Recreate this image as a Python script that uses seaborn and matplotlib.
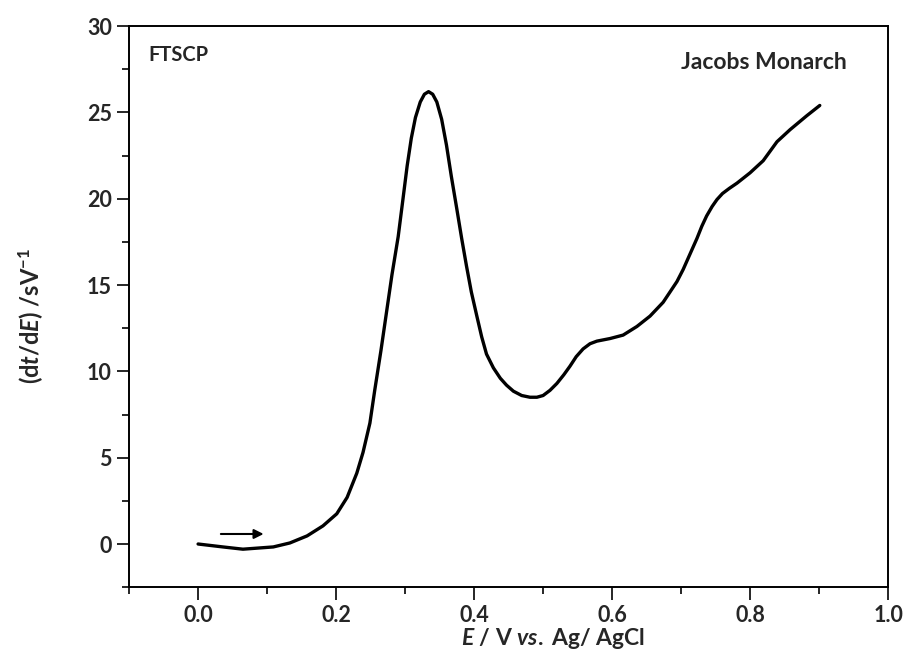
import matplotlib
matplotlib.use("Agg")
import matplotlib.pyplot as plt
from matplotlib.ticker import MultipleLocator, FormatStrFormatter
import pandas as pd
import seaborn as sns

# potential (V vs Ag/AgCl) and dt/dE (s/V)
potential = [0.000, 0.036, 0.065, 0.109, 0.133, 0.158, 0.181, 0.201, 0.216, 0.230,
             0.239, 0.249, 0.256, 0.265, 0.273, 0.281, 0.290, 0.297, 0.303, 0.309,
             0.315, 0.322, 0.328, 0.334, 0.340, 0.346, 0.353, 0.360, 0.367, 0.375,
             0.382, 0.389, 0.396, 0.404, 0.411, 0.418, 0.428, 0.438, 0.447, 0.457,
             0.469, 0.481, 0.491, 0.500, 0.510, 0.520, 0.530, 0.539, 0.548, 0.558,
             0.568, 0.578, 0.597, 0.616, 0.636, 0.655, 0.674, 0.694, 0.703, 0.713,
             0.723, 0.730, 0.737, 0.745, 0.752, 0.760, 0.770, 0.781, 0.800, 0.819,
             0.839, 0.858, 0.882, 0.901]
dtdE = [0.00, -0.17, -0.30, -0.17, 0.06, 0.47, 1.05, 1.75, 2.70, 4.10,
        5.30, 7.00, 8.90, 11.2, 13.4, 15.6, 17.8, 20.0, 21.9, 23.5,
        24.7, 25.6, 26.05, 26.2, 26.05, 25.6, 24.6, 23.1, 21.3, 19.4,
        17.7, 16.1, 14.6, 13.2, 12.0, 11.0, 10.2, 9.6, 9.2, 8.85,
        8.6, 8.5, 8.5, 8.6, 8.9, 9.3, 9.8, 10.3, 10.85, 11.3,
        11.6, 11.75, 11.9, 12.1, 12.6, 13.2, 14.0, 15.2, 15.9, 16.8,
        17.7, 18.4, 19.0, 19.55, 19.95, 20.3, 20.6, 20.9, 21.5, 22.2,
        23.3, 24.0, 24.8, 25.4]

sample_label = "FTSCP"
coffee_label = "Jacobs Monarch"

df = pd.DataFrame({"E": potential, "dtdE": dtdE})

sns.set_style("ticks")
plt.rcParams["font.family"] = ["Lato", "DejaVu Sans"]
plt.rcParams["font.weight"] = "bold"
plt.rcParams["mathtext.fontset"] = "custom"
plt.rcParams["mathtext.rm"] = "Lato:bold"
plt.rcParams["mathtext.it"] = "Lato:bold:italic"
plt.rcParams["mathtext.bf"] = "Lato:bold"

fig, ax = plt.subplots(figsize=(9.09, 6.59), dpi=100)
fig.subplots_adjust(left=0.142, right=0.977, bottom=0.109, top=0.9605)

sns.lineplot(data=df, x="E", y="dtdE", color="black", linewidth=2.4,
             estimator=None, sort=False, ax=ax)

ax.set_xlim(-0.1, 1.0)
ax.set_ylim(-2.5, 30)
ax.xaxis.set_major_locator(MultipleLocator(0.2))
ax.xaxis.set_minor_locator(MultipleLocator(0.1))
ax.yaxis.set_major_locator(MultipleLocator(5))
ax.yaxis.set_minor_locator(MultipleLocator(2.5))
ax.xaxis.set_major_formatter(FormatStrFormatter("%.1f"))
ax.tick_params(which="major", length=9, width=1.4, labelsize=15.5, direction="out")
ax.tick_params(which="minor", length=5, width=1.4, direction="out")
for lab in ax.get_xticklabels() + ax.get_yticklabels():
    lab.set_fontweight("bold")
for s in ax.spines.values():
    s.set_linewidth(1.4)
    s.set_color("black")

ax.set_xlabel(r"$E$ / V $vs.$ Ag/ AgCl", fontsize=16.5, fontweight="bold")
ax.set_ylabel(r"(d$t$/d$E$) /sV$^{-1}$", fontsize=17, fontweight="bold")
ax.xaxis.set_label_coords(0.559, -0.069)
ax.yaxis.set_label_coords(-0.11, 0.483)

ax.text(-0.072, 28.3, sample_label, fontsize=14.5, fontweight="bold", va="center")
ax.text(0.94, 27.9, coffee_label, fontsize=16.5, fontweight="bold", va="center", ha="right")

ax.annotate("", xy=(0.099, 0.58), xytext=(0.029, 0.58),
            arrowprops=dict(arrowstyle="-|>", color="black", lw=1.5, mutation_scale=14))

fig.savefig("out.png", dpi=100)
